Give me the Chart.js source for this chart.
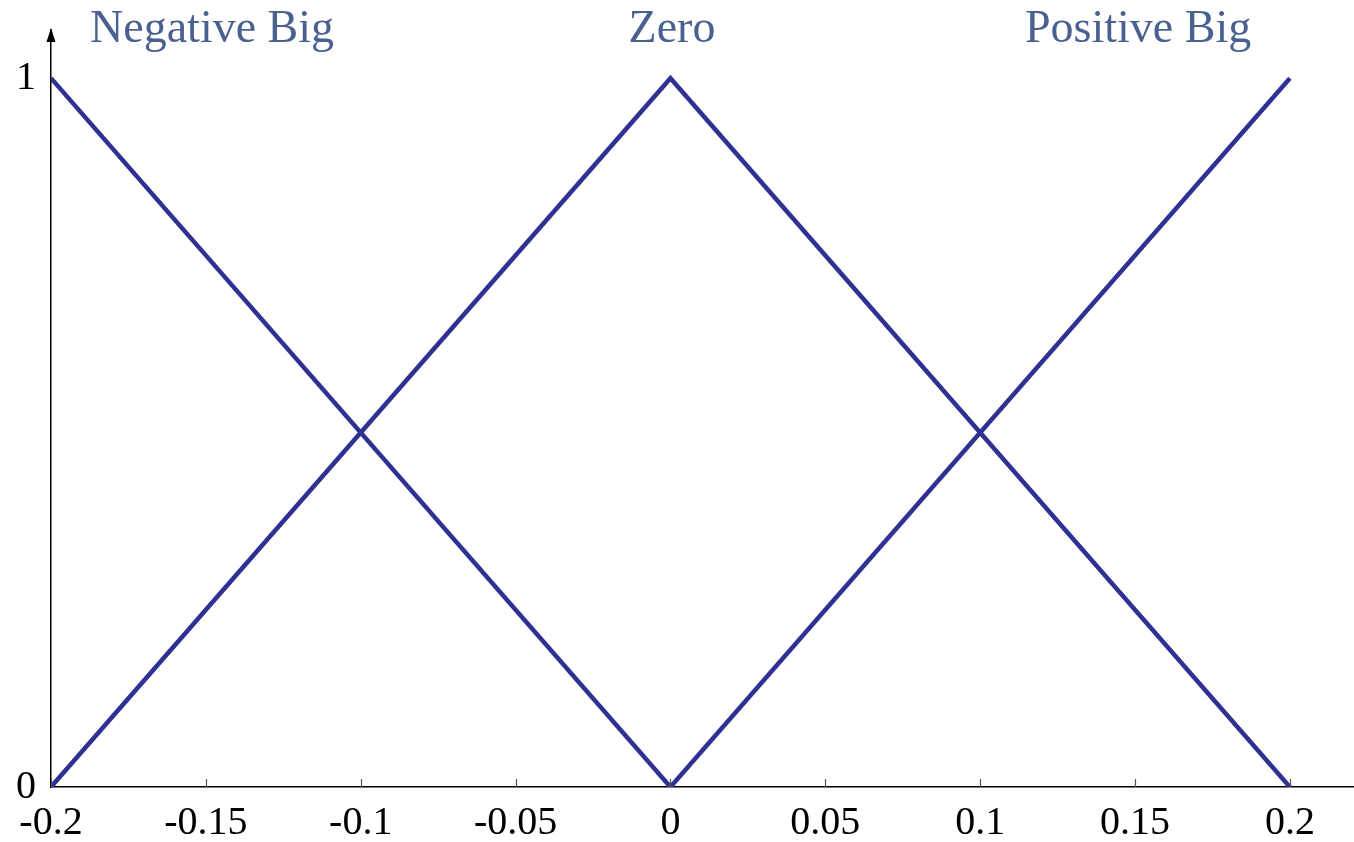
<!DOCTYPE html>
<html>
<head>
<meta charset="utf-8">
<script src="https://cdn.jsdelivr.net/npm/chart.js@4/dist/chart.umd.min.js"></script>
<style>
  html, body { margin: 0; padding: 0; background: #ffffff; }
  #wrap { width: 1354px; height: 842px; }
</style>
</head>
<body>
<div id="wrap"><canvas id="c"></canvas></div>
<script>
// Membership functions: x breakpoints and membership degrees
const negBigX = [-0.2, 0];
const negBigY = [1, 0];
const zeroX = [-0.2, 0, 0.2];
const zeroY = [0, 1, 0];
const posBigX = [0, 0.2];
const posBigY = [0, 1];

// Axis tick values
const xTickValues = [-0.2, -0.15, -0.1, -0.05, 0, 0.05, 0.1, 0.15, 0.2];
const yTickValues = [0, 1];

// Set names written above the plot, with the x value each is centred on
const setNames = ['Negative Big', 'Zero', 'Positive Big'];
const setNameX = [-0.148, 0.0005, 0.151];

const LINE = '#2e3192';
const SERIF = '"Liberation Serif", "DejaVu Serif", serif';

function pts(xs, ys) { return xs.map((x, i) => ({ x: x, y: ys[i] })); }

const decor = {
  id: 'decor',
  afterDraw(chart) {
    const ctx = chart.ctx;
    const xs = chart.scales.x;
    const area = chart.chartArea;
    ctx.save();
    // small inward tick marks on the horizontal axis
    ctx.strokeStyle = '#555555';
    ctx.lineWidth = 1.2;
    xTickValues.forEach(v => {
      const px = Math.round(xs.getPixelForValue(v)) + 0.5;
      ctx.beginPath();
      ctx.moveTo(px, area.bottom);
      ctx.lineTo(px, area.bottom - 8);
      ctx.stroke();
    });
    // arrow head on the vertical axis
    const ax = xs.getPixelForValue(xs.min);
    ctx.fillStyle = '#000000';
    ctx.beginPath();
    ctx.moveTo(ax, area.top - 2);
    ctx.lineTo(ax - 4.5, area.top + 12);
    ctx.lineTo(ax + 4.5, area.top + 12);
    ctx.closePath();
    ctx.fill();
    // set names
    ctx.fillStyle = '#4a6190';
    ctx.font = '46px ' + SERIF;
    ctx.textAlign = 'center';
    ctx.textBaseline = 'alphabetic';
    setNames.forEach((t, i) => {
      ctx.fillText(t, xs.getPixelForValue(setNameX[i]), 42);
    });
    ctx.restore();
  }
};

const ds = (xs, ys) => ({
  data: pts(xs, ys),
  showLine: true,
  borderColor: LINE,
  borderWidth: 4.5,
  pointRadius: 0,
  fill: false,
  tension: 0
});

new Chart(document.getElementById('c'), {
  type: 'scatter',
  data: {
    datasets: [ds(negBigX, negBigY), ds(zeroX, zeroY), ds(posBigX, posBigY)]
  },
  options: {
    responsive: true,
    maintainAspectRatio: false,
    animation: false,
    layout: { padding: { top: 30, right: 0, left: 0, bottom: 0 } },
    plugins: { legend: { display: false }, tooltip: { enabled: false } },
    scales: {
      x: {
        type: 'linear',
        min: -0.2,
        max: 0.2207,
        afterBuildTicks: s => { s.ticks = xTickValues.map(v => ({ value: v })); },
        afterFit: s => { s.height = 55; s.paddingLeft = 0; s.paddingRight = 0; },
        grid: { display: false },
        border: { display: true, color: '#000000', width: 1.5 },
        ticks: {
          color: '#000000',
          font: { family: SERIF, size: 40 },
          padding: 4,
          maxRotation: 0,
          autoSkip: false,
          callback: v => String(Math.round(v * 100) / 100)
        }
      },
      y: {
        type: 'linear',
        min: 0,
        max: 1.068,
        afterBuildTicks: s => { s.ticks = yTickValues.map(v => ({ value: v })); },
        afterFit: s => { s.width = 51; s.paddingTop = 0; s.paddingBottom = 0; },
        grid: { display: false, drawTicks: false },
        border: { display: true, color: '#000000', width: 1.5 },
        ticks: {
          color: '#000000',
          font: { family: SERIF, size: 40 },
          padding: 15,
          autoSkip: false
        }
      }
    }
  },
  plugins: [decor]
});
</script>
</body>
</html>
